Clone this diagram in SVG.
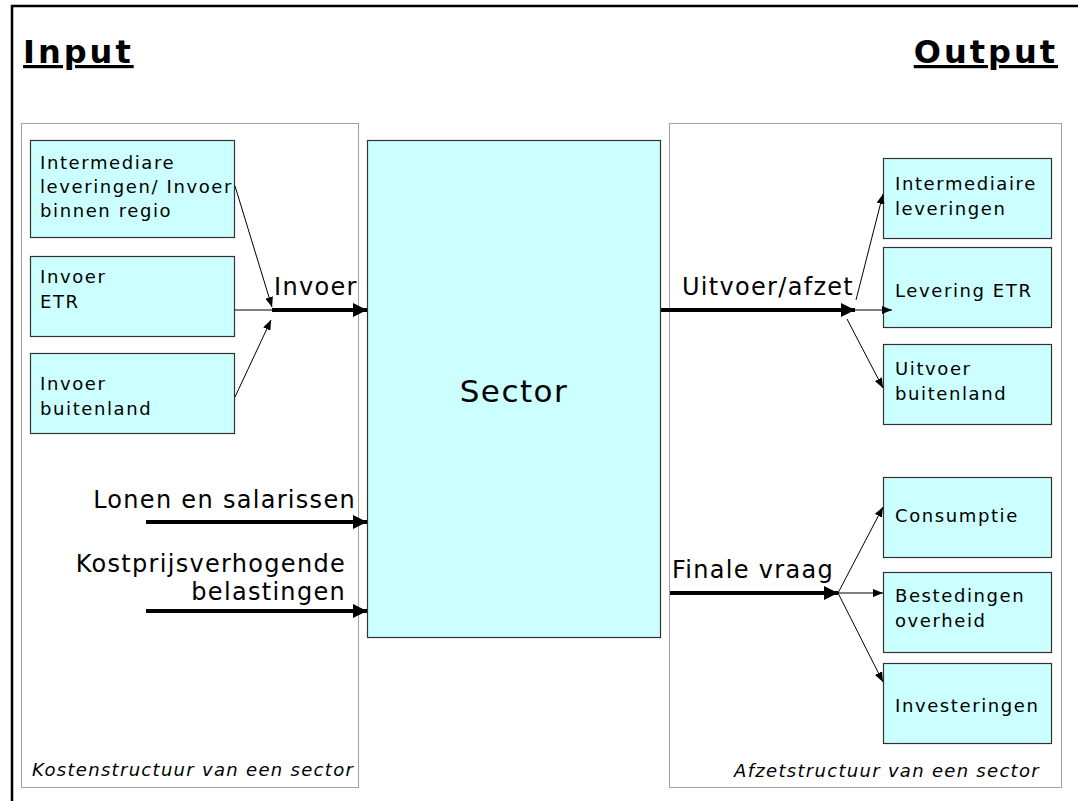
<svg xmlns="http://www.w3.org/2000/svg" width="1078" height="801" viewBox="0 0 1078 801">
<style>
text{font-family:"DejaVu Sans",Verdana,sans-serif;fill:#000}
.box{fill:#CCFFFF;stroke:#333;stroke-width:1.2}
.region{fill:none;stroke:#444;stroke-width:1;stroke-dasharray:1 1}
.t{font-size:18px;letter-spacing:1.6px}
.lab{font-size:24px;letter-spacing:1.3px}
.cap{font-size:18px;font-style:italic;letter-spacing:1.3px}
.head{font-size:32px;font-weight:bold;letter-spacing:3px;text-decoration:underline}
.thin{stroke:#000;stroke-width:1;fill:none}
.thick{stroke:#000;stroke-width:4;fill:none}
</style>
<defs>
<marker id="ah" viewBox="0 0 10 8" refX="10" refY="4" markerWidth="10" markerHeight="8" markerUnits="userSpaceOnUse" orient="auto"><path d="M0,0L10,4L0,8z" fill="#000"/></marker>
<marker id="ahb" viewBox="0 0 14 14" refX="14" refY="7" markerWidth="14" markerHeight="14" markerUnits="userSpaceOnUse" orient="auto"><path d="M0,0L14,7L0,14z" fill="#000"/></marker>
</defs>
<rect width="1078" height="801" fill="#fff"/>
<path d="M12,801V6H1078" fill="none" stroke="#000" stroke-width="2.5"/>
<text class="head" x="23" y="63">Input</text>
<text class="head" x="1058" y="63" text-anchor="end">Output</text>
<rect class="region" x="21.5" y="123.5" width="337" height="664"/>
<rect class="region" x="669.5" y="123.5" width="392" height="664"/>
<text class="cap" x="32" y="776">Kostenstructuur van een sector</text>
<text class="cap" x="1040" y="777" text-anchor="end">Afzetstructuur van een sector</text>
<g id="sector"><rect class="box" x="367.5" y="140.5" width="293" height="497"/><text x="514" y="402" text-anchor="middle" style="font-size:31px;letter-spacing:1.5px">Sector</text></g>
<g id="in1"><rect class="box" x="30.5" y="140.5" width="204" height="97"/><text class="t" x="40" y="169">Intermediare</text><text class="t" x="40" y="193">leveringen/ Invoer</text><text class="t" x="40" y="217">binnen regio</text></g>
<g id="in2"><rect class="box" x="30.5" y="256.5" width="204" height="80"/><text class="t" x="40" y="283">Invoer</text><text class="t" x="40" y="308">ETR</text></g>
<g id="in3"><rect class="box" x="30.5" y="353.5" width="204" height="80"/><text class="t" x="40" y="390">Invoer</text><text class="t" x="40" y="415">buitenland</text></g>
<g id="out1"><rect class="box" x="883.5" y="158.5" width="168" height="80"/><text class="t" x="895" y="190">Intermediaire</text><text class="t" x="895" y="215">leveringen</text></g>
<g id="out2"><rect class="box" x="883.5" y="247.5" width="168" height="80"/><text class="t" x="895" y="297">Levering ETR</text></g>
<g id="out3"><rect class="box" x="883.5" y="344.5" width="168" height="80"/><text class="t" x="895" y="375">Uitvoer</text><text class="t" x="895" y="400">buitenland</text></g>
<g id="fin1"><rect class="box" x="883.5" y="477.5" width="168" height="80"/><text class="t" x="895" y="522">Consumptie</text></g>
<g id="fin2"><rect class="box" x="883.5" y="572.5" width="168" height="80"/><text class="t" x="895" y="602">Bestedingen</text><text class="t" x="895" y="627">overheid</text></g>
<g id="fin3"><rect class="box" x="883.5" y="663.5" width="168" height="80"/><text class="t" x="895" y="712">Investeringen</text></g>
<g id="connectors">
<line class="thin" x1="235" y1="186" x2="272" y2="307" marker-end="url(#ah)"/>
<line class="thin" x1="235" y1="310" x2="272" y2="310" stroke="#555"/>
<line class="thin" x1="235" y1="397" x2="271" y2="320" marker-end="url(#ah)"/>
<line class="thick" x1="272" y1="310" x2="367" y2="310" marker-end="url(#ahb)"/>
<text class="lab" x="274" y="295">Invoer</text>
<line class="thick" x1="146" y1="522" x2="367" y2="522" marker-end="url(#ahb)"/>
<text class="lab" x="356" y="508" text-anchor="end">Lonen en salarissen</text>
<line class="thick" x1="146" y1="611" x2="367" y2="611" marker-end="url(#ahb)"/>
<text class="lab" x="346" y="572" text-anchor="end">Kostprijsverhogende</text>
<text class="lab" x="346" y="600" text-anchor="end">belastingen</text>
<line class="thick" x1="661" y1="310" x2="855" y2="310" marker-end="url(#ahb)"/>
<text class="lab" x="682" y="295">Uitvoer/afzet</text>
<line class="thin" x1="856" y1="300" x2="883" y2="194" marker-end="url(#ah)"/>
<line class="thin" x1="855" y1="310" x2="892" y2="310" marker-end="url(#ah)"/>
<line class="thin" x1="847" y1="319" x2="883" y2="388" marker-end="url(#ah)"/>
<line class="thick" x1="670" y1="593" x2="838" y2="593" marker-end="url(#ahb)"/>
<text class="lab" x="672" y="578">Finale vraag</text>
<line class="thin" x1="838" y1="593" x2="883" y2="507" marker-end="url(#ah)"/>
<line class="thin" x1="838" y1="593" x2="883" y2="593" marker-end="url(#ah)"/>
<line class="thin" x1="838" y1="593" x2="883" y2="682" marker-end="url(#ah)"/>
</g>
</svg>
